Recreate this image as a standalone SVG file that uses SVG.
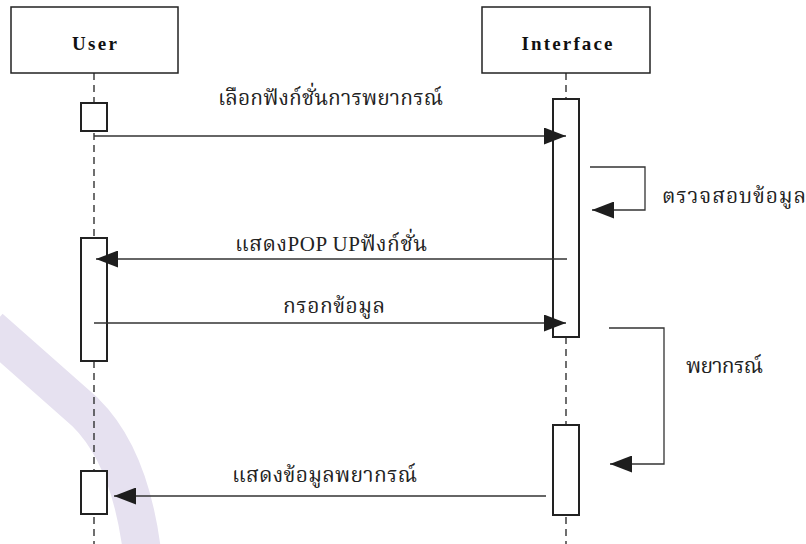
<svg xmlns="http://www.w3.org/2000/svg" width="806" height="544" viewBox="0 0 806 544">
  <style>
    .head { fill: #ffffff; stroke: #222222; stroke-width: 1.5; }
    .head-label { font-family: "Liberation Serif", "DejaVu Serif", serif; font-weight: bold; font-size: 19px; fill: #111111; text-anchor: middle; }
    .life { stroke: #222222; stroke-width: 1.3; stroke-dasharray: 7 5; fill: none; }
    .act { fill: #ffffff; stroke: #222222; stroke-width: 2; }
    .msg { stroke: #333333; stroke-width: 1.3; fill: none; }
    .label { font-family: "Liberation Serif", "Noto Serif Thai", "Noto Sans Thai", "DejaVu Sans", serif; font-size: 21px; fill: #222222; }
  </style>
  <defs>
    <marker id="arrow" markerUnits="userSpaceOnUse" markerWidth="22" markerHeight="17" refX="22" refY="8.5" orient="auto">
      <path d="M0,0 L22,8.5 L0,17 z" fill="#1e1e1e"/>
    </marker>
  </defs>

  <rect width="806" height="544" fill="#ffffff"/>
  <!-- soft background arc -->
  <path d="M-10,328 L85,412 Q132,458 143,560" fill="none" stroke="#e6e1f0" stroke-width="38"/>

  <!-- lifelines -->
  <g id="lifelines">
    <line class="life" x1="94" y1="73" x2="94" y2="544"/>
    <line class="life" x1="566" y1="73" x2="566" y2="544"/>
  </g>

  <g id="user">
    <rect class="head" x="11" y="7" width="167" height="66"/>
    <text class="head-label" x="94.5" y="49.5" textLength="45" lengthAdjust="spacing">User</text>
  </g>
  <g id="interface">
    <rect class="head" x="482" y="7" width="168" height="66"/>
    <text class="head-label" x="567" y="49.5" textLength="91" lengthAdjust="spacing">Interface</text>
  </g>

  <!-- activation bars -->
  <g id="user-activation-1"><rect class="act" x="81" y="103" width="26" height="28"/></g>
  <g id="user-activation-2"><rect class="act" x="81" y="238" width="26" height="123"/></g>
  <g id="user-activation-3"><rect class="act" x="81" y="471" width="26" height="43"/></g>
  <g id="interface-activation-1"><rect class="act" x="553" y="99" width="26" height="238"/></g>
  <g id="interface-activation-2"><rect class="act" x="553" y="425" width="26" height="90"/></g>

  <!-- messages -->
  <g id="connectors">
    <line class="msg" x1="94" y1="136" x2="566" y2="136" marker-end="url(#arrow)"/>
    <polyline class="msg" points="590,167 645,167 645,210 592,210" marker-end="url(#arrow)"/>
    <line class="msg" x1="567" y1="259" x2="96" y2="259" marker-end="url(#arrow)"/>
    <line class="msg" x1="94" y1="323" x2="566" y2="323" marker-end="url(#arrow)"/>
    <polyline class="msg" points="609,328 664,328 664,464 610,464" marker-end="url(#arrow)"/>
    <line class="msg" x1="546" y1="496" x2="114" y2="496" marker-end="url(#arrow)"/>
  </g>

  <g id="labels">
    <text class="label" x="218" y="105" textLength="225" lengthAdjust="spacing">เลือกฟังก์ชั่นการพยากรณ์</text>
    <text class="label" x="662" y="203" textLength="144" lengthAdjust="spacing">ตรวจสอบข้อมูล</text>
    <text class="label" x="235" y="251" textLength="192" lengthAdjust="spacing">แสดงPOP UPฟังก์ชั่น</text>
    <text class="label" x="283" y="313" textLength="102" lengthAdjust="spacing">กรอกข้อมูล</text>
    <text class="label" x="686" y="373" textLength="77" lengthAdjust="spacing">พยากรณ์</text>
    <text class="label" x="232" y="482" textLength="185" lengthAdjust="spacing">แสดงข้อมูลพยากรณ์</text>
  </g>
</svg>
